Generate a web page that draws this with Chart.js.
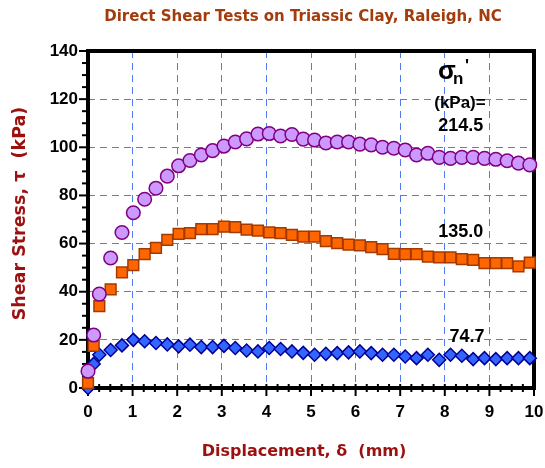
<!DOCTYPE html>
<html>
<head>
<meta charset="utf-8">
<script src="https://cdn.jsdelivr.net/npm/chart.js@4.4.1/dist/chart.umd.min.js"></script>
<style>
  html, body { margin: 0; padding: 0; background: #fff; }
  #wrap { width: 545px; height: 468px; position: relative; }
</style>
</head>
<body>
<div id="wrap"><canvas id="shear"></canvas></div>
<script>
// displacement readings (mm) - dial was read in 0.01 in steps
const displacement = [0, 0.127, 0.254, 0.508, 0.762, 1.016, 1.27, 1.524, 1.778, 2.032,
  2.286, 2.54, 2.794, 3.048, 3.302, 3.556, 3.81, 4.064, 4.318, 4.572,
  4.826, 5.08, 5.334, 5.588, 5.842, 6.096, 6.35, 6.604, 6.858, 7.112,
  7.366, 7.62, 7.874, 8.128, 8.382, 8.636, 8.89, 9.144, 9.398, 9.652, 9.906];

// shear stress (kPa) for each normal stress
const tau2145 = [7, 22, 39, 54, 64.6, 72.8, 78.4, 83, 88, 92.3,
  94.5, 96.8, 98.6, 100.5, 102.2, 103.5, 105.5, 105.7, 104.7, 105.3,
  103.4, 103, 101.8, 102.2, 102.2, 101.3, 101, 100, 99.6, 98.9,
  96.8, 97.5, 95.8, 95.4, 95.8, 95.8, 95.4, 95, 94.4, 93.4, 92.7];
const tau1350 = [2, 17.5, 34, 41, 48, 51, 55.6, 58.2, 61.5, 64,
  64.3, 66, 66, 67, 66.8, 65.8, 65.4, 64.6, 64.3, 63.6,
  62.9, 62.9, 61, 60.2, 59.6, 59.3, 58.5, 57.7, 55.7, 55.6,
  55.6, 54.6, 54.3, 54.3, 53.5, 53.2, 51.9, 51.9, 51.9, 50.5, 52.1];
const tau747 = [0, 10, 13.8, 15.8, 17.7, 20, 19.4, 18.7, 18.1, 17.3,
  18, 17, 17, 17.5, 16.6, 15.6, 15.2, 16.6, 16.2, 15.2,
  14.6, 13.8, 14.2, 14.5, 14.8, 15.2, 14.5, 13.8, 13.8, 13.1,
  12.4, 13.8, 11.7, 13.8, 13.4, 12, 12.4, 12, 12.4, 12.4, 12.4];

const seriesLabels = ['214.5', '135.0', '74.7'];
// where the labels sit, in data units (displacement, stress)
const labelSpots = [[8.36, 108.8], [8.36, 64.6], [8.5, 21.2]];

const chartTitle = 'Direct Shear Tests on Triassic Clay, Raleigh, NC';
const xTitle = 'Displacement, δ  (mm)';
const yTitle = 'Shear Stress, τ  (kPa)';

const toPoints = (ys) => ys.map((v, i) => ({ x: displacement[i], y: v }));
const comic = '"Comic Sans MS", "DejaVu Sans", sans-serif';
const arial = '"Liberation Sans", Arial, sans-serif';

const boxAndTicks = {
  id: 'boxAndTicks',
  beforeDatasetsDraw(chart) {
    const { ctx, chartArea: a, scales: { x, y } } = chart;
    ctx.save();
    ctx.strokeStyle = '#000';
    ctx.lineWidth = 2;
    for (let v = 0; v <= 140; v += 5) {
      const py = y.getPixelForValue(v);
      const len = v % 20 === 0 ? 9 : 6;
      ctx.beginPath();
      ctx.moveTo(a.left - len, py);
      ctx.lineTo(a.left, py);
      ctx.stroke();
    }
    for (let v = 0; v <= 10; v += 0.25) {
      const px = x.getPixelForValue(v);
      const major = Math.abs(v - Math.round(v)) < 1e-6;
      ctx.beginPath();
      ctx.moveTo(px, a.bottom - 4);
      ctx.lineTo(px, a.bottom + (major ? 8 : 4));
      ctx.stroke();
    }
    ctx.lineWidth = 4;
    ctx.strokeRect(a.left, a.top, a.right - a.left, a.bottom - a.top);
    ctx.restore();
  },
  afterDatasetsDraw(chart) {
    const { ctx, chartArea: a, scales: { x, y } } = chart;
    ctx.save();
    ctx.fillStyle = '#000';
    ctx.textAlign = 'center';
    ctx.textBaseline = 'middle';
    ctx.font = 'bold 18px ' + arial;
    seriesLabels.forEach((t, i) => {
      ctx.fillText(t, x.getPixelForValue(labelSpots[i][0]), y.getPixelForValue(labelSpots[i][1]));
    });
    ctx.font = 'bold 17px ' + arial;
    ctx.fillText('(kPa)=', x.getPixelForValue(8.34), y.getPixelForValue(118.4));
    // sigma_n'
    const sx = x.getPixelForValue(7.85), sy = y.getPixelForValue(131.5);
    ctx.textAlign = 'left';
    ctx.font = 'bold 26px ' + arial;
    ctx.fillText('σ', sx, sy);
    ctx.font = 'bold 17px ' + arial;
    ctx.fillText('n', sx + 15, sy + 8);
    ctx.fillText("'", sx + 27, sy - 5);

    // titles
    const midX = (a.left + a.right) / 2;
    ctx.textAlign = 'center';
    ctx.fillStyle = '#A33C0C';
    ctx.font = 'bold 15px ' + comic;
    ctx.fillText(chartTitle, midX - 8, 17);
    ctx.fillStyle = '#9C1010';
    ctx.font = 'bold 16px ' + comic;
    ctx.fillText(xTitle, midX - 7, 452);
    ctx.font = 'bold 17.5px ' + comic;
    ctx.translate(20, (a.top + a.bottom) / 2 - 6);
    ctx.rotate(-Math.PI / 2);
    ctx.fillText(yTitle, 0, 0);
    ctx.restore();
  }
};

const gridColor = (c) => (c.index === 0 || c.index === c.scale.ticks.length - 1)
  ? 'rgba(0,0,0,0)' : '#4F7DF0';

new Chart(document.getElementById('shear'), {
  type: 'scatter',
  data: {
    datasets: [
      {
        data: toPoints(tau2145), pointStyle: 'circle', pointRadius: 6.8,
        backgroundColor: '#CC99FF', borderColor: '#800080', borderWidth: 1.5, clip: false
      },
      {
        data: toPoints(tau1350), pointStyle: 'rect', pointRadius: 7.6,
        backgroundColor: '#FF6600', borderColor: '#A33A00', borderWidth: 1.5, clip: false
      },
      {
        data: toPoints(tau747), pointStyle: 'rectRot', pointRadius: 6.5,
        backgroundColor: '#3366FF', borderColor: '#000099', borderWidth: 1.5, clip: false
      }
    ]
  },
  options: {
    responsive: true,
    maintainAspectRatio: false,
    animation: false,
    layout: { padding: { left: 0, right: 11, top: 51, bottom: 0 } },
    plugins: {
      legend: { display: false },
      tooltip: { enabled: false },
      title: { display: false }
    },
    scales: {
      x: {
        type: 'linear', min: 0, max: 10,
        ticks: { stepSize: 1, color: '#000', padding: 14,
          font: { family: arial, size: 17, weight: 'bold' } },
        grid: { color: gridColor, drawTicks: false, lineWidth: 1 },
        border: { display: false, dash: [7, 5] },
        afterFit(scale) {
          scale.height = 80;
          scale.paddingLeft = 0;
          scale.paddingRight = 0;
        }
      },
      y: {
        type: 'linear', min: 0, max: 140,
        ticks: { stepSize: 20, color: '#000', padding: 10,
          font: { family: arial, size: 17, weight: 'bold' } },
        grid: { color: gridColor, drawTicks: false, lineWidth: 1 },
        border: { display: false, dash: [7, 5] },
        afterFit(scale) { scale.width = 88; }
      }
    }
  },
  plugins: [boxAndTicks]
});
</script>
</body>
</html>
